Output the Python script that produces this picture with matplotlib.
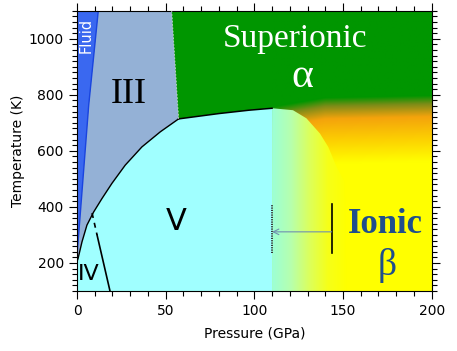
#! /usr/bin/env python3
# phase diagram: pressure vs temperature

import numpy as np

import matplotlib
matplotlib.use("Agg")
import matplotlib.pyplot as plt
from matplotlib.colors import to_rgb
from matplotlib.patches import Polygon
from matplotlib.ticker import MultipleLocator

# phase boundaries (GPa, K)
fluid_P = [0.0, 6.6, 12.0]
fluid_T = [225, 763, 1100]

III_V_P = [0.0, 0.6, 2.8, 5.6, 9.4, 14.1, 19.7, 27.2, 36.6, 47.0, 57.3]
III_V_T = [205, 216, 275, 335, 382, 430, 484, 549, 614, 668, 714]

III_alpha_P = [57.3, 53.4]
III_alpha_T = [714, 1100]

V_alpha_P = [57.3, 80.0, 97.0, 110.0]
V_alpha_T = [714, 733, 745, 752]

# upper edge of the V -> beta crossover band
beta_edge_P = [110.0, 121.8, 129.4, 137.0, 141.7, 146.4, 151.0, 152.0]
beta_edge_T = [752, 745, 716, 662, 614, 543, 489, 100]

# soft lower edge of the alpha phase above the ionic phase
alpha_edge_P = [110.0, 125.0, 140.0, 200.0]
alpha_edge_T = [755, 772, 788, 796]

# IV-V boundary (dashed part then solid part)
IV_V_dash_P = [8.5, 11.3]
IV_V_dash_T = [378, 300]
IV_V_P = [11.3, 18.6]
IV_V_T = [300, 100]

# markers: dotted line, solid line and arrow
mark_dot_P = 110.0
mark_line_P = 143.6
mark_T = [234, 412]
arrow_T = 311

# colours
c_fluid = "#3a68f0"
c_III = "#94b1d6"
c_V = "#a0ffff"
c_green = "#009600"
c_text = "#1f4e8c"

Pmin, Pmax = 0, 200
Tmin, Tmax = 100, 1100

fig = plt.figure(figsize=(4.57, 3.51), dpi=100)
ax = fig.add_axes([0.1685, 0.171, 0.776, 0.7985])

# background: alpha -> orange -> yellow, edge moves with pressure
nP, nT = 400, 600
Pg = np.linspace(Pmin, Pmax, nP)
Tg = np.linspace(Tmin, Tmax, nT)
edge = np.interp(Pg, alpha_edge_P, alpha_edge_T)
dT = Tg[:, None] - edge[None, :]
stops = [-1000, -235, -150, -75, -30, 0, 1000]
cols = np.array([to_rgb(c) for c in
                 ["#ffff00", "#ffff00", "#fcce02", "#f4a30c", "#7e8c18",
                  c_green, c_green]])
img = np.zeros((nT, nP, 3))
for k in range(3):
    img[..., k] = np.interp(dT, stops, cols[:, k])
ax.imshow(img, origin="lower", extent=[Pmin, Pmax, Tmin, Tmax],
          aspect="auto", zorder=0, interpolation="bilinear")

# alpha (superionic) region left of 110 GPa
alpha_poly = list(zip(III_alpha_P[::-1], III_alpha_T[::-1])) \
    + list(zip(V_alpha_P, V_alpha_T)) + [(110.0, Tmax)]
ax.add_patch(Polygon(alpha_poly, closed=True, fc=c_green, ec="none", zorder=1))

# phase V
V_poly = [(0.0, Tmin)] + list(zip(III_V_P, III_V_T)) \
    + list(zip(V_alpha_P[1:], V_alpha_T[1:])) + [(110.0, Tmin)]
ax.add_patch(Polygon(V_poly, closed=True, fc=c_V, ec="none", zorder=1))

# phase III
III_poly = list(zip(III_V_P, III_V_T)) + list(zip(III_alpha_P[1:], III_alpha_T[1:])) \
    + list(zip(fluid_P[::-1], fluid_T[::-1]))
ax.add_patch(Polygon(III_poly, closed=True, fc=c_III, ec="none", zorder=1))

# fluid
fluid_poly = [(0.0, Tmin), (0.0, Tmax)] + list(zip(fluid_P[::-1], fluid_T[::-1]))
ax.add_patch(Polygon(fluid_poly, closed=True, fc=c_fluid, ec="none", zorder=1))
ax.plot(fluid_P, fluid_T, color="#1a44e0", lw=1.0, zorder=2)

# crossover band V -> ionic beta (horizontal gradient)
band = Polygon([(110.0, Tmin)] + list(zip(beta_edge_P, beta_edge_T)),
               closed=True, fc="none", ec="none")
ax.add_patch(band)
grad_cols = np.array([to_rgb(c) for c in
                      ["#9cffd6", "#b6ffae", "#dcff5c", "#f6ff18", "#ffff00"]])
gx = np.linspace(0, 1, 200)
gstops = np.linspace(0, 1, len(grad_cols))
gimg = np.zeros((2, 200, 3))
for k in range(3):
    gimg[..., k] = np.interp(gx, gstops, grad_cols[:, k])[None, :]
gi = ax.imshow(gimg, origin="lower", extent=[110.0, 152.0, Tmin, Tmax],
               aspect="auto", zorder=1.5, interpolation="bilinear")
gi.set_clip_path(band)

# boundaries
ax.plot(III_V_P, III_V_T, color="black", lw=1.0, zorder=3)
ax.plot(V_alpha_P, V_alpha_T, color="black", lw=1.1, zorder=3)
ax.plot(III_alpha_P, III_alpha_T, color="#c8d8c8", lw=0.6, ls=(0, (2, 2)), zorder=3)
ax.plot(IV_V_dash_P, IV_V_dash_T, color="black", lw=1.2, ls=(0, (3, 3)), zorder=3)
ax.plot(IV_V_P, IV_V_T, color="black", lw=1.2, zorder=3)

# markers
ax.plot([mark_dot_P, mark_dot_P], mark_T, color="#333333", lw=1.4,
        ls=(0, (0.6, 0.6)), zorder=3)
ax.plot([mark_line_P, mark_line_P], mark_T, color="black", lw=1.2, zorder=3)
ax.annotate("", xy=(mark_dot_P, arrow_T), xytext=(mark_line_P, arrow_T),
            arrowprops=dict(arrowstyle="->", color="#7090b0", lw=0.8,
                            shrinkA=0, shrinkB=0), zorder=3)

# labels
serif = ["Liberation Serif", "DejaVu Serif"]
ax.text(123.2, 970, "Superionic", color="white", fontsize=24, family=serif,
        ha="center", va="baseline", zorder=4)
ax.text(127.1, 827, "\u03b1", color="white", fontsize=30, family=serif,
        ha="center", va="baseline", zorder=4)
ax.text(29.1, 770, "III", color="black", fontsize=26, family=serif,
        ha="center", va="baseline", zorder=4)
ax.text(56.0, 317, "V", color="black", fontsize=22, ha="center",
        va="baseline", zorder=4)
ax.text(6.9, 138, "IV", color="black", fontsize=16, ha="center",
        va="baseline", zorder=4)
ax.text(5.4, 1013, "Fluid", color="white", fontsize=10.5, rotation=90,
        ha="center", va="center", zorder=4)
ax.text(174.1, 306, "Ionic", color=c_text, fontsize=25, family=serif,
        fontweight="bold", ha="center", va="baseline", zorder=4)
ax.text(175.0, 192, "\u03b2", color=c_text, fontsize=27, family=serif,
        ha="center", va="center", zorder=4)

# axes
ax.set_xlim(Pmin, Pmax)
ax.set_ylim(Tmin, Tmax)
ax.xaxis.set_major_locator(MultipleLocator(50))
ax.xaxis.set_minor_locator(MultipleLocator(10))
ax.yaxis.set_major_locator(MultipleLocator(200))
ax.yaxis.set_minor_locator(MultipleLocator(20))
ax.tick_params(which="both", direction="out", top=True, right=True,
               labelsize=10, width=0.8)
ax.tick_params(which="major", length=6)
ax.tick_params(which="minor", length=3.5)
ax.set_xlabel("Pressure (GPa)", fontsize=10, labelpad=6)
ax.set_ylabel("Temperature (K)", fontsize=10, labelpad=3)

fig.savefig("out.png", dpi=100)
